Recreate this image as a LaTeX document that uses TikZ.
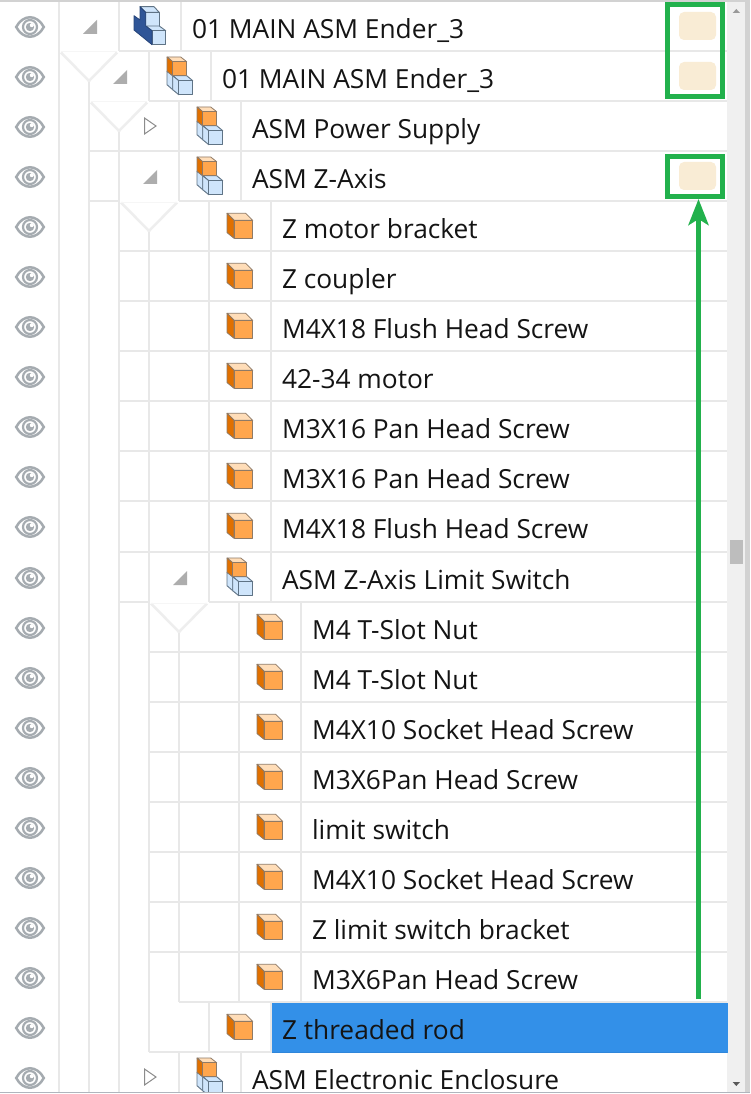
\documentclass[tikz,border=0pt]{standalone}
\usepackage{fontspec}
\setmainfont{Open Sans}
\usetikzlibrary{arrows.meta}
\definecolor{gridc}{HTML}{E8E8E8}
\definecolor{vfade}{HTML}{EEEEEE}
\definecolor{eyec}{HTML}{A5ABB0}
\definecolor{orfront}{HTML}{FFA64D}
\definecolor{orleft}{HTML}{E07000}
\definecolor{ortop}{HTML}{FFDDB8}
\definecolor{orline}{HTML}{8F7A66}
\definecolor{blface}{HTML}{CFE5FB}
\definecolor{blline}{HTML}{5F7385}
\definecolor{bldark}{HTML}{2F5597}
\definecolor{pillc}{HTML}{F9ECD5}
\definecolor{greenc}{HTML}{22B14C}
\definecolor{selc}{HTML}{3390E8}
\definecolor{seld}{HTML}{2F86DA}
\definecolor{trackc}{HTML}{F0F0F0}
\definecolor{edgec}{HTML}{D2D2D2}
\definecolor{thumbc}{HTML}{BDBDBD}
\definecolor{basec}{HTML}{B0B5BD}
\tikzset{
  x=1pt,y=-1pt,
  gridline/.style={draw=gridc,line width=2pt},
  vmark/.style={draw=vfade,line width=2.5pt,line join=round},
  vtop/.style={draw=vfade!50,line width=1pt},
  rowtext/.style={anchor=base west,inner sep=0pt,outer sep=0pt,yshift=-0.5pt,font=\fontsize{26.3}{30}\selectfont,text=black!92},
  tri/.style={fill=black!32},
  opentri/.style={draw=black!45,fill=white,line width=1pt},
  pill/.style={fill=pillc,rounded corners=5pt,minimum width=37pt,minimum height=28pt,inner sep=0pt,draw=none},
  gbox/.style={draw=greenc,line width=5pt,inner sep=0pt,fill=none},
  oface/.style={line width=.8pt,draw=orline,line join=round},
  bface/.style={fill=blface,draw=blline,line width=.9pt,line join=round},
  parttop/.pic={
    \path[oface,fill=ortop] (0,0)--(18.7,0)--(25.7,7)--(7,7)--cycle;
    \path[oface,fill=orleft] (0,0)--(7,7)--(7,25)--(0,19.3)--cycle;
    \path[oface,fill=orfront] (7,7)--(25.7,7)--(25.7,25)--(7,25)--cycle;
  },
  asmicon/.pic={
    \path[bface] (0,14.3)--(5.7,18.7)--(5.7,32.7)--(0,27.7)--cycle;
    \path[bface] (5.7,18.7)--(19.7,18.7)--(25.7,23.7)--(11.7,23.7)--cycle;
    \path[bface] (5.7,18.7)--(11.7,23.7)--(11.7,37.7)--(5.7,32.7)--cycle;
    \path[bface] (11.7,23.7)--(25.7,23.7)--(25.7,37.7)--(11.7,37.7)--cycle;
    \path[oface,fill=ortop] (0,0)--(13.7,0)--(19.7,4.7)--(5.7,4.7)--cycle;
    \path[oface,fill=orleft] (0,0)--(5.7,4.7)--(5.7,18.7)--(0,14.3)--cycle;
    \path[oface,fill=orfront] (5.7,4.7)--(19.7,4.7)--(19.7,18.7)--(5.7,18.7)--cycle;
  },
  topicon/.pic={
    \path[bface] (6,0)--(20,0)--(25.3,5.7)--(11.7,5.7)--cycle;
    \path[bface] (11.7,5.7)--(25.3,5.7)--(25.3,19.3)--(11.7,19.3)--cycle;
    \path[bface] (11.7,19.3)--(25.3,19.3)--(31.7,24)--(18,24)--cycle;
    \path[bface] (18,24)--(31.7,24)--(31.7,38)--(18,38)--cycle;
    \path[fill=bldark,draw=bldark!80!black,line width=.8pt,line join=round] (6,0)--(11.7,5.7)--(11.7,19.3)--(18,24)--(18,38)--(0,23.3)--(0,9)--(6,13.3)--cycle;
  },
  eyeicon/.pic={
    \draw[eyec,line width=2.5pt] (-13.8,0) .. controls (-7,-13) and (7,-13) .. (13.8,0) .. controls (7,13) and (-7,13) .. cycle;
    \draw[eyec,line width=2.2pt] (0,0) circle (7);
    \fill[eyec] (0,0) circle (4.2);
    \fill[white] (1.8,-1.8) circle (2);
  },
}
\begin{document}
\begin{tikzpicture}
\useasboundingbox (0,0) rectangle (750,1094);
\fill[white] (0,0) rectangle (750,1094);
\begin{scope}
\clip (0,0) rectangle (750,1092);
% vertical grid
\foreach \xx/\ya/\yb in {59/1/1092,89/81/1092,119/131/1092,149/231/1052,179/632/1002,
  119/1/51,149/51/101,179/101/201,179/1052/1092,209/201/602,209/1002/1052,239/602/1002,
  181/1/51,211/51/101,241/101/201,241/1052/1092,271/201/602,271/1002/1052,301/602/1002}
  \draw[gridline] (\xx,\ya) -- (\xx,\yb);
% horizontal grid
\foreach \yy/\xa/\xb in {51/119/727,101/149/727,151/89/727,201/89/119,201/179/727,
  251/119/727,301/119/727,351/119/727,401/119/727,451/119/727,501/119/727,551.5/119/727,
  602/119/149,602/209/727,652/149/727,702/149/727,752/149/727,802/149/727,852/149/727,
  902/149/727,952/149/727,1002/179/727,1052/149/272,1052/179/727}
  \draw[gridline] (\xa,\yy) -- (\xb,\yy);
% collapse chevrons
\foreach \vx/\vy in {89/81,119/131,149/231,179/632}{
  \draw[vmark] (\vx-28,\vy-28.5) -- (\vx,\vy) -- (\vx+28,\vy-28.5);
  \draw[vtop] (\vx-28,\vy-29) -- (\vx+28,\vy-29);
}
% selected row
\fill[selc] (272,1003) rectangle (728,1053);
\fill[seld] (272,1052) rectangle (728,1053);
% triangles
\foreach \tx/\ty in {97/34,127/84,157/184,187/585}
  \fill[tri] (\tx,\ty) -- (\tx,\ty-14) -- (\tx-14,\ty) -- cycle;
\foreach \tx/\ty in {156/126,156/1077}
  \draw[opentri] (\tx,\ty) -- (\tx-11.5,\ty-8) -- (\tx-11.5,\ty+8) -- cycle;
% eyes
\foreach \c in {28,78,128,178,228,278,328,378,428,478,528,579,629,679,729,779,829,879,929,979,1029,1079}
  \pic at (30,\c-1) {eyeicon};
% icons
\pic at (134,6.7) {topicon};
\foreach \ix/\c in {167/78,197/128,197/178,227/579,197/1079}
  \pic at (\ix,\c-21) {asmicon};
\foreach \ix/\c in {227/228,227/278,227/328,227/378,227/428,227/478,227/528,227/1029,
  257/629,257/679,257/729,257/779,257/829,257/879,257/929,257/979}
  \pic at (\ix,\c-14.7) {parttop};
% texts
\node[rowtext] (t0) at (192,37.7) {01 MAIN ASM Ender\_3};
\node[rowtext] (t1) at (222,87.7) {01 MAIN ASM Ender\_3};
\node[rowtext] (t2) at (252,137.7) {ASM Power Supply};
\node[rowtext] (t3) at (252,187.7) {ASM Z-Axis};
\node[rowtext] (t4) at (282,237.7) {Z motor bracket};
\node[rowtext] (t5) at (282,287.7) {Z coupler};
\node[rowtext] (t6) at (282,337.7) {M4X18 Flush Head Screw};
\node[rowtext] (t7) at (282,387.7) {42-34 motor};
\node[rowtext] (t8) at (282,437.7) {M3X16 Pan Head Screw};
\node[rowtext] (t9) at (282,487.7) {M3X16 Pan Head Screw};
\node[rowtext] (t10) at (282,537.7) {M4X18 Flush Head Screw};
\node[rowtext] (t11) at (282,588.7) {ASM Z-Axis Limit Switch};
\node[rowtext] (t12) at (312,638.7) {M4 T-Slot Nut};
\node[rowtext] (t13) at (312,688.7) {M4 T-Slot Nut};
\node[rowtext] (t14) at (312,738.7) {M4X10 Socket Head Screw};
\node[rowtext] (t15) at (312,788.7) {M3X6Pan Head Screw};
\node[rowtext] (t16) at (312,838.7) {limit switch};
\node[rowtext] (t17) at (312,888.7) {M4X10 Socket Head Screw};
\node[rowtext] (t18) at (312,938.7) {Z limit switch bracket};
\node[rowtext] (t19) at (312,988.7) {M3X6Pan Head Screw};
\node[rowtext] (t20) at (282,1038.7) {Z threaded rod};
\node[rowtext] (t21) at (252,1088.7) {ASM Electronic Enclosure};
\end{scope}
% scrollbar
\fill[trackc] (727,1) rectangle (745,1092);
\fill[edgec] (745,1) rectangle (750,1092);
\fill[selc] (727,1003) rectangle (728,1053);
\fill[thumbc] (730,540) rectangle (743,564);
\fill[black!40] (732.7,13) -- (736.3,9) -- (740,13) -- cycle;
\fill[black!65] (732.7,1082) -- (740,1082) -- (736.3,1086) -- cycle;
% frame lines
\fill[edgec] (0,0) rectangle (750,1.6);
\fill[basec] (0,1092) rectangle (750,1093.4);
% pills
\node[pill] (pa) at (697.5,26) {};
\node[pill] (pb) at (697.5,76) {};
\node[pill] (pc) at (697.5,176) {};
% green boxes and arrow
\node[gbox,minimum width=55pt,minimum height=92pt] (boxa) at (695,50.5) {};
\node[gbox,minimum width=55pt,minimum height=40pt] (boxc) at (695,176.5) {};
\coordinate (arrowstart) at (698.5,999);
\draw[greenc,line width=5pt,-{Stealth[length=26pt,width=20pt,inset=6pt]}] (arrowstart) -- (arrowstart |- boxc.south);
\end{tikzpicture}
\end{document}
